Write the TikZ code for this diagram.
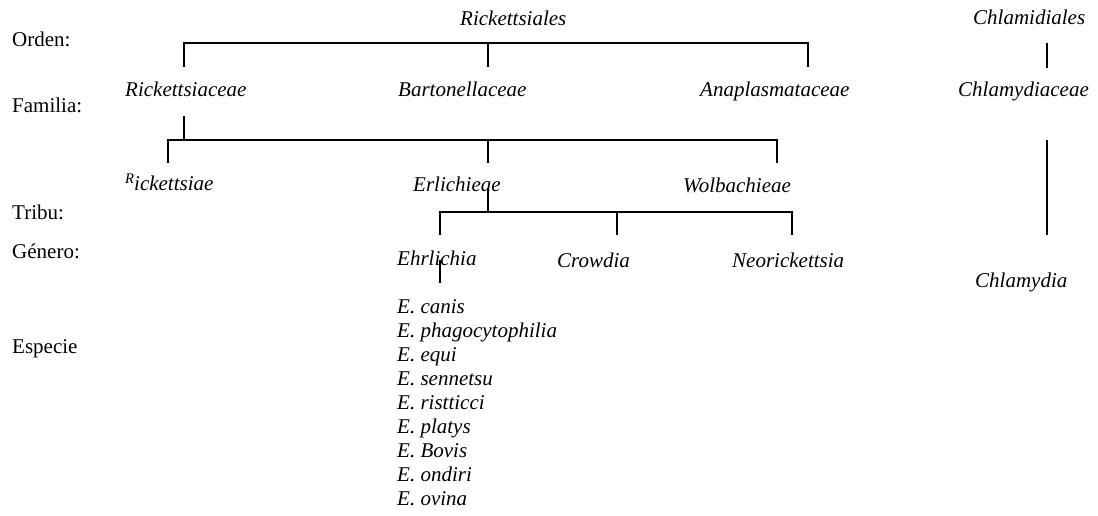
\documentclass[tikz,border=0pt]{standalone}
\usepackage{fontspec}
\setmainfont{Liberation Serif}
\usepackage{graphicx}

\tikzset{
  rank/.style={anchor=base west, inner sep=0pt, font=\fontsize{21}{25}\selectfont},
  taxon/.style={rank, font=\fontsize{21}{25}\selectfont\itshape},
  branch/.style={line width=1.2pt},
}

\begin{document}
\begin{tikzpicture}[x=1pt,y=-1pt]
\useasboundingbox (0,0) rectangle (1098,516);
%\draw [lightgray,step=50] (0,0) grid (1098,516);

% rangos
\node [rank] (orden) at (12, 47){Orden:};
\node [rank] (familia) at (12,113){Familia:};
\node [rank] (tribu) at (12,219){Tribu:};
\node [rank] (genero) at (12,258){Género:};
\node [rank] (especie) at (12,353){Especie};

% ordenes
\node [taxon] (rickettsiales) at (460,26){Rickettsiales};
\node [taxon] (chlamidiales) at (973,25){Chlamidiales};

% familias
\node [taxon] (rickettsiaceae) at (125,97){Rickettsiaceae};
\node [taxon] (bartonellaceae) at (398,97){Bartonellaceae};
\node [taxon] (anaplasmataceae) at (700,97){Anaplasmataceae};
\node [taxon] (chlamydiaceae) at (958,97){Chlamydiaceae};

% tribus
\node [taxon] (rickettsiae) at (125,190){\raisebox{0.3em}{\scalebox{0.7}{R}}ickettsiae};
\node [taxon] (erlichieae) at (413,192){Erlichieae};
\node [taxon] (wolbachieae) at (683,193){Wolbachieae};

% generos
\node [taxon] (ehrlichia) at (397,265){Ehrlichia};
\node [taxon] (crowdia) at (557,267){Crowdia};
\node [taxon] (neorickettsia) at (732,267){Neorickettsia};
\node [taxon] (chlamydia) at (975,287){Chlamydia};

% especies
\foreach \sp [count=\i from 0] in {canis,phagocytophilia,equi,sennetsu,ristticci,platys,Bovis,ondiri,ovina}
  \node [taxon] (esp\i) at (397,313+24*\i){E. \sp};

% puntos del arbol
\coordinate (o1) at (184,43);
\coordinate (o2) at (488,43);
\coordinate (o3) at (808,43);
\coordinate (f0) at (184,116);
\coordinate (f1) at (168,140);
\coordinate (f2) at (488,140);
\coordinate (f3) at (777,140);
\coordinate (t0) at (488,188);
\coordinate (g1) at (440,212);
\coordinate (g2) at (617,212);
\coordinate (g3) at (792,212);
\coordinate (e0) at (440,260);
\coordinate (c0) at (1047,43);
\coordinate (c1) at (1047,140);

\draw [branch] (o1) ++(0,24) -- (o1) -- (o3) -- ++(0,24); % Rickettsiales
\draw [branch] (o2) -- ++(0,24);
\draw [branch] (f0) -- (f0 |- f1); % Rickettsiaceae
\draw [branch] (f1) ++(0,23) -- (f1) -- (f3) -- ++(0,23);
\draw [branch] (f2) -- ++(0,23);
\draw [branch] (t0) -- (t0 |- g1); % Erlichieae
\draw [branch] (g1) ++(0,23) -- (g1) -- (g3) -- ++(0,23);
\draw [branch] (g2) -- ++(0,23);
\draw [branch] (e0) -- ++(0,23); % Ehrlichia
\draw [branch] (c0) -- ++(0,25); % Chlamidiales
\draw [branch] (c1) -- ++(0,95);

\end{tikzpicture}
\end{document}
